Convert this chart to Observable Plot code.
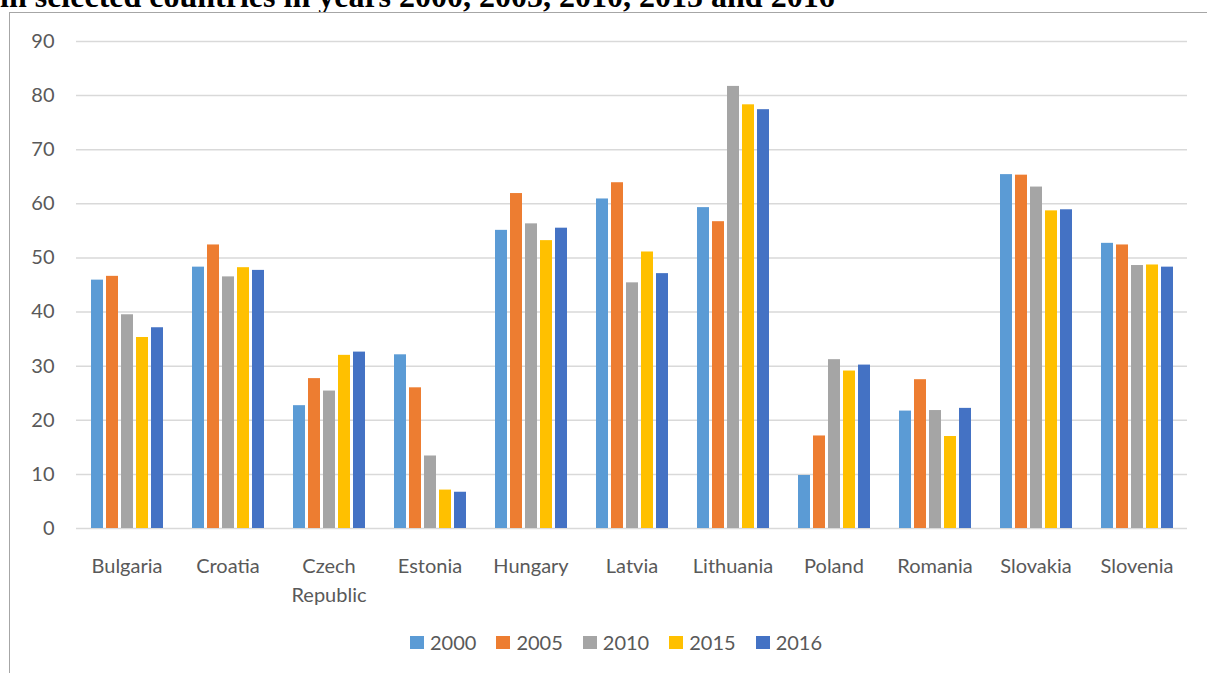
<!DOCTYPE html>
<html>
<head>
<meta charset="utf-8">
<script src="https://cdn.jsdelivr.net/npm/d3@7"></script>
<script src="https://cdn.jsdelivr.net/npm/@observablehq/plot@0.6"></script>
<style>
  html, body { margin: 0; padding: 0; background: #fff; }
  body { width: 1207px; height: 673px; overflow: hidden; position: relative; font-family: Lato, sans-serif; }
  #title { position: absolute; left: 0; top: -20px; font: bold 32px/32px "Liberation Serif", serif; white-space: nowrap; color: #000; }
  #frame { position: absolute; left: 9px; top: 12px; width: 1300px; height: 800px; border: 1px solid #a6a6a6; background: #fff; }
  #chart { position: absolute; left: 0; top: 0; }
  #legend { position: absolute; top: 632px; left: 410px; display: flex; align-items: center; font: 20px/20px Lato, sans-serif; color: #595959; }
  .item { display: flex; align-items: center; margin-right: 20px; }
  .sw { width: 14px; height: 13px; margin-right: 6px; }
</style>
</head>
<body>
<div id="title">in selected countries in years 2000, 2005, 2010, 2015 and 2016</div>
<div id="frame"></div>
<div id="chart"></div>
<div id="legend"></div>
<script>
const countries = ["Bulgaria","Croatia","Czech Republic","Estonia","Hungary","Latvia","Lithuania","Poland","Romania","Slovakia","Slovenia"];
const years = ["2000","2005","2010","2015","2016"];
const v2000 = [45.9, 48.3, 22.7, 32.1, 55.1, 60.9, 59.3, 9.8, 21.7, 65.4, 52.7];
const v2005 = [46.6, 52.4, 27.7, 26.0, 61.9, 63.9, 56.7, 17.1, 27.5, 65.3, 52.4];
const v2010 = [39.5, 46.5, 25.4, 13.4, 56.3, 45.4, 81.7, 31.2, 21.8, 63.1, 48.6];
const v2015 = [35.3, 48.2, 32.0, 7.1, 53.2, 51.1, 78.3, 29.1, 17.0, 58.7, 48.7];
const v2016 = [37.1, 47.7, 32.6, 6.7, 55.5, 47.1, 77.4, 30.2, 22.2, 58.9, 48.3];
const yTicks = [0, 10, 20, 30, 40, 50, 60, 70, 80, 90];
const colors = ["#5B9BD5", "#ED7D31", "#A5A5A5", "#FFC000", "#4472C4"];

const series = [v2000, v2005, v2010, v2015, v2016];
const data = [];
countries.forEach((c, i) => years.forEach((yr, j) => data.push({country: c, year: yr, value: series[j][i]})));

const marks = [
  Plot.ruleY(yTicks, {y: d => d, stroke: "#d9d9d9", strokeWidth: 1.5}),
  Plot.barY(data, {x: "year", y: "value", fill: "year"})
];
const hasAxisMarks = typeof Plot.axisFx === "function";
if (hasAxisMarks) {
  marks.push(Plot.axisY(yTicks, {tickSize: 0, tickPadding: 22, label: null, fontSize: 20, fill: "#595959"}));
  marks.push(Plot.axisFx({anchor: "bottom", tickSize: 0, tickPadding: 23.5, label: null, fontSize: 20, fill: "#595959", lineHeight: 1.465, tickFormat: d => d.replace(" ", "\n")}));
}

const chart = Plot.plot({
  width: 1207,
  height: 620,
  marginTop: 41,
  marginBottom: 92,
  marginLeft: 73,
  marginRight: 17,
  style: {fontFamily: "Lato, sans-serif", fontSize: "20px", color: "#595959", background: "transparent"},
  facet: {data: data, x: "country"},
  fx: {domain: countries, padding: 0, label: null, ...(hasAxisMarks ? {axis: null} : {axis: "bottom", tickSize: 0, tickPadding: 23.5, tickFormat: d => d.replace(" ", "\n")})},
  x: {domain: years, axis: null, paddingInner: 0.21, paddingOuter: 0.858},
  y: {domain: [0, 90], ...(hasAxisMarks ? {axis: null} : {axis: "left", ticks: yTicks, tickSize: 0, tickPadding: 22, label: null})},
  color: {domain: years, range: colors},
  marks
});
document.getElementById("chart").appendChild(chart);

const legend = d3.select("#legend");
years.forEach((yr, j) => {
  const it = legend.append("div").attr("class", "item");
  it.append("div").attr("class", "sw").style("background", colors[j]);
  it.append("span").text(yr);
});
</script>
</body>
</html>
